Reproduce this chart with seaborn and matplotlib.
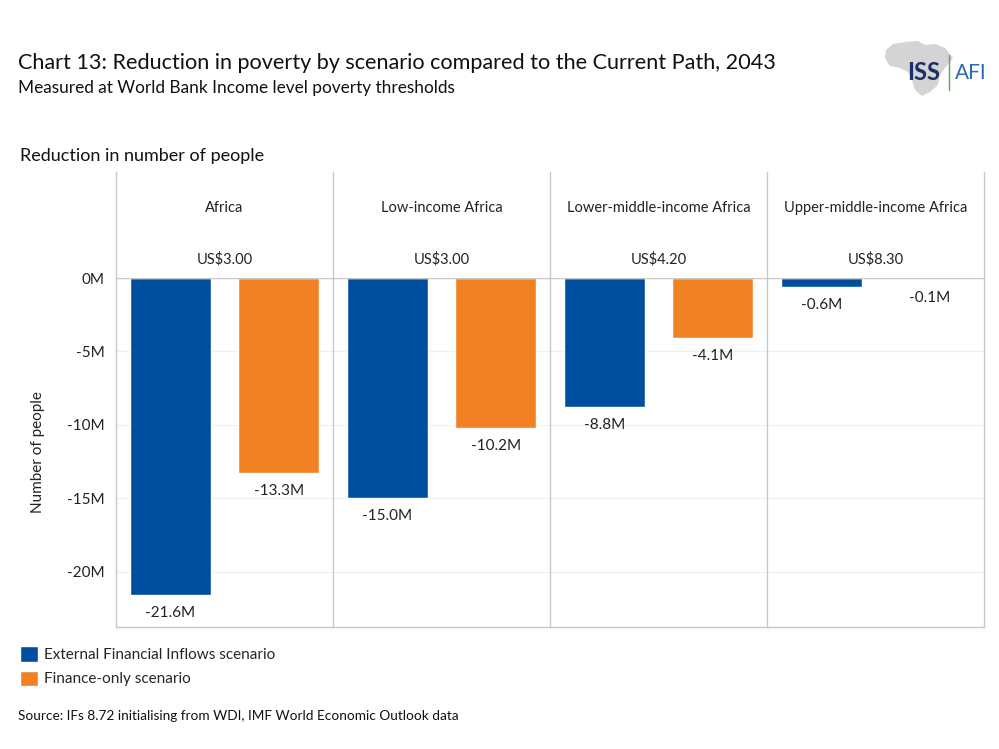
import pandas as pd
import numpy as np
import matplotlib
matplotlib.use("Agg")
import matplotlib.pyplot as plt
from matplotlib.patches import Patch, Polygon
import seaborn as sns

sns.set_style("white")
plt.rcParams['font.family'] = ['Lato', 'DejaVu Sans']

# Dados
regioes = ['Africa', 'Low-income Africa', 'Lower-middle-income Africa', 'Upper-middle-income Africa']
limiares = ['US$3.00', 'US$3.00', 'US$4.20', 'US$8.30']
cenarios = ['External Financial Inflows scenario', 'Finance-only scenario']
valores_efi = [-21.6, -15.0, -8.8, -0.6]
valores_fin = [-13.3, -10.2, -4.1, -0.1]
cores = ['#004F9F', '#F28123']
yticks = [0, -5, -10, -15, -20]

df = pd.DataFrame({
    'regiao': regioes * 2,
    'cenario': [cenarios[0]] * 4 + [cenarios[1]] * 4,
    'valor': valores_efi + valores_fin,
})

fig = plt.figure(figsize=(9.99, 7.49), dpi=100)
W, H = 999, 749
linha = '#c8c8c8'

xs = [116, 333, 550, 767, 984]
y_top, y_zero, y_bot = 172, 278, 627

def fx(px):
    return px / W

def fy(py):
    return 1 - py / H

for i, reg in enumerate(regioes):
    x0, x1 = xs[i], xs[i + 1]
    # cabeçalho
    axh = fig.add_axes([fx(x0), fy(y_zero), fx(x1 - x0), (y_zero - y_top) / H])
    axh.set_xlim(0, 1)
    axh.set_ylim(0, 1)
    axh.set_xticks([])
    axh.set_yticks([])
    for s in ['top', 'bottom']:
        axh.spines[s].set_visible(False)
    for s in ['left', 'right']:
        axh.spines[s].set_color(linha)
        axh.spines[s].set_linewidth(1)
    if i < 3:
        axh.spines['right'].set_visible(False)
    axh.text(0.5, 0.665, reg, ha='center', va='center', fontsize=10.5, color='#222222')
    axh.text(0.5, 0.18, limiares[i], ha='center', va='center', fontsize=10.5, color='#222222')

    # barras
    ax = fig.add_axes([fx(x0), fy(y_bot), fx(x1 - x0), (y_bot - y_zero) / H])
    sub = df[df['regiao'] == reg]
    sns.barplot(data=sub, x='cenario', y='valor', hue='cenario', order=cenarios,
                hue_order=cenarios, palette=cores, width=0.75, legend=False,
                saturation=1, ax=ax, zorder=3)
    ax.set_xlim(-0.5, 1.5)
    ax.set_ylim(-23.75, 0)
    ax.set_yticks(yticks)
    ax.grid(axis='y', color='#efefef', linewidth=0.8, zorder=0)
    ax.set_xticks([])
    ax.set_xlabel('')
    ax.set_ylabel('')
    ax.axhline(0, color=linha, linewidth=1, zorder=4)
    ax.spines['top'].set_visible(False)
    for s in ['left', 'right', 'bottom']:
        ax.spines[s].set_color(linha)
        ax.spines[s].set_linewidth(1)
    if i < 3:
        ax.spines['right'].set_visible(False)
    if i == 0:
        ax.set_yticklabels([f'{t}M' for t in yticks], fontsize=11, color='#222222')
        ax.tick_params(axis='y', length=0, pad=8)
        ax.set_ylabel('Number of people', fontsize=11, color='#222222', labelpad=16)
    else:
        ax.set_yticklabels([])
        ax.tick_params(axis='y', length=0)
    for c in ax.containers:
        for bar in c:
            v = bar.get_height()
            ax.annotate(f'{v:.1f}M', (bar.get_x() + bar.get_width() / 2, v),
                        xytext=(0, -13), textcoords='offset points',
                        ha='center', va='center', fontsize=11, color='#222222')

# textos
fig.text(fx(18), fy(63), 'Chart 13: Reduction in poverty by scenario compared to the Current Path, 2043',
         fontsize=15.6, va='center', ha='left', color='#111111')
fig.text(fx(18), fy(88), 'Measured at World Bank Income level poverty thresholds',
         fontsize=12.4, va='center', ha='left', color='#111111')
fig.text(fx(20), fy(156), 'Reduction in number of people',
         fontsize=13, va='center', ha='left', color='#111111')
fig.text(fx(18), fy(716), 'Source: IFs 8.72 initialising from WDI, IMF World Economic Outlook data',
         fontsize=9.8, va='center', ha='left', color='#111111')

# logótipo
contorno = [(893, 44), (905, 42), (918, 41), (925, 45), (935, 44), (945, 48), (953, 58),
            (950, 62), (945, 68), (940, 75), (938, 85), (930, 92), (922, 96), (915, 90),
            (912, 80), (908, 72), (900, 68), (890, 66), (885, 58), (886, 50)]
fig.add_artist(Polygon([(fx(a), fy(b)) for a, b in contorno], closed=True,
                       facecolor='#d4d4d4', edgecolor='none', transform=fig.transFigure))
fig.text(fx(907), fy(73), 'ISS', fontsize=17, fontweight='bold', color='#1c2f66',
         va='center', ha='left')
fig.add_artist(plt.Line2D([fx(949), fx(949)], [fy(55), fy(90)], color='#4caf50', linewidth=1))
fig.text(fx(955), fy(73), 'AFI', fontsize=15, color='#2a6ab0', va='center', ha='left')

# legenda
handles = [Patch(facecolor=cores[0]), Patch(facecolor=cores[1])]
fig.legend(handles, cenarios, loc='upper left', bbox_to_anchor=(fx(14), fy(640)),
           frameon=False, fontsize=11, handlelength=1.15, handleheight=1.2,
           handletextpad=0.4, labelspacing=0.55, borderaxespad=0)

fig.savefig('out.png', dpi=100)
